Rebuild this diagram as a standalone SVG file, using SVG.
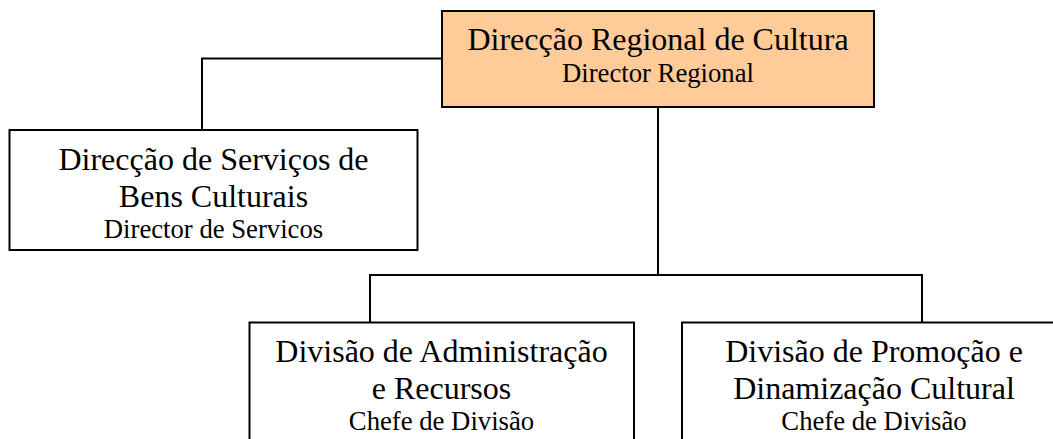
<svg xmlns="http://www.w3.org/2000/svg" width="1053" height="439" viewBox="0 0 1053 439">
<style>
.box{fill:#ffffff;stroke:#000000;stroke-width:2}
.top{fill:#ffcc99}
.t{font-family:"Liberation Serif","Times New Roman",serif;fill:#000000;text-anchor:middle}
.big{font-size:32px}
.small{font-size:26.7px}
.conn{fill:none;stroke:#000000;stroke-width:2}
</style>
<rect width="1053" height="439" fill="#ffffff"/>
<g id="connectors">
<polyline class="conn" points="442,58.5 202,58.5 202,130"/>
<line class="conn" x1="658" y1="107" x2="658" y2="275"/>
<polyline class="conn" points="370,322 370,275 922,275 922,322"/>
</g>
<g id="node-regional">
<rect class="box top" x="442" y="11" width="432" height="96"/>
<text class="t big" x="658" y="50">Direcção Regional de Cultura</text>
<text class="t small" x="658" y="82">Director Regional</text>
</g>
<g id="node-servicos">
<rect class="box" x="9.5" y="130" width="408" height="120"/>
<text class="t big" x="213.5" y="170">Direcção de Serviços de</text>
<text class="t big" x="213.5" y="207">Bens Culturais</text>
<text class="t small" x="213.5" y="238">Director de Servicos</text>
</g>
<g id="node-administracao">
<rect class="box" x="249.5" y="322.5" width="384.5" height="130"/>
<text class="t big" x="441.5" y="362">Divisão de Administração</text>
<text class="t big" x="441.5" y="399">e Recursos</text>
<text class="t small" x="441.5" y="430">Chefe de Divisão</text>
</g>
<g id="node-promocao">
<rect class="box" x="682" y="322.5" width="384" height="130"/>
<text class="t big" x="874" y="362">Divisão de Promoção e</text>
<text class="t big" x="874" y="399">Dinamização Cultural</text>
<text class="t small" x="874" y="430">Chefe de Divisão</text>
</g>
</svg>
